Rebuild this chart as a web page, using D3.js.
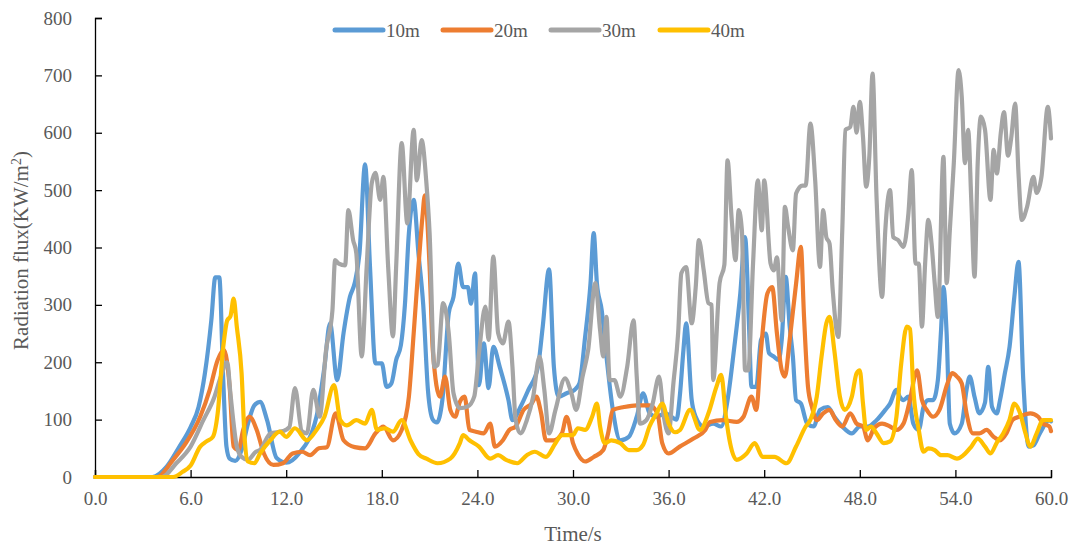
<!DOCTYPE html>
<html>
<head>
<meta charset="utf-8">
<script src="https://cdn.jsdelivr.net/npm/d3@7"></script>
<style>
  body { margin: 0; background: #fff; }
  text { font-family: "Liberation Serif", "Times New Roman", serif; fill: #595959; }
</style>
</head>
<body>
<div id="chart"></div>
<script>
// series names + colours
var seriesNames = ["10m", "20m", "30m", "40m"];
var seriesColors = ["#5B9BD5", "#ED7D31", "#A5A5A5", "#FFC000"];
var xTicks = [0, 6, 12, 18, 24, 30, 36, 42, 48, 54, 60];
var yTicks = [0, 100, 200, 300, 400, 500, 600, 700, 800];

// [time (s), flux (KW/m2)]
var flux10 = [[0,0],[3.6,0],[4.5,18],[5.3,53],[6.0,87],[6.5,122],[6.9,181],[7.3,273],[7.55,348],[7.8,348],[8.05,169],[8.25,53],[8.45,32],[8.8,28],[9.2,47],[9.6,93],[10.0,125],[10.36,131],[10.8,99],[11.4,33],[12.0,25],[12.8,41],[13.9,105],[14.4,192],[14.75,268],[15.2,169],[15.6,251],[16.0,314],[16.3,338],[16.6,390],[16.95,545],[17.26,366],[17.6,198],[18.0,198],[18.3,157],[18.6,163],[18.9,204],[19.2,230],[19.45,300],[19.7,425],[20.0,483],[20.3,390],[20.6,300],[20.9,150],[21.2,100],[21.45,95],[21.8,134],[22.2,285],[22.5,314],[22.8,372],[23.1,331],[23.4,331],[23.6,302],[23.85,355],[24.1,160],[24.4,233],[24.7,155],[25.0,227],[25.4,192],[25.95,134],[26.2,99],[26.7,122],[27.2,152],[27.8,192],[28.1,262],[28.5,362],[28.8,192],[29.1,140],[29.6,146],[30.1,152],[30.4,163],[30.76,244],[31.1,338],[31.3,425],[31.5,338],[31.8,291],[32.1,210],[32.5,117],[32.97,64],[33.5,70],[34.0,105],[34.4,146],[34.8,111],[35.25,105],[35.8,111],[36.5,100],[36.72,146],[36.93,221],[37.1,268],[37.45,134],[37.7,105],[38.2,88],[38.8,93],[39.3,88],[39.7,134],[40.1,221],[40.5,320],[40.8,418],[41.05,262],[41.2,157],[41.5,157],[41.8,239],[42.1,250],[42.3,216],[42.6,210],[42.9,204],[43.1,239],[43.35,349],[43.6,262],[43.8,210],[44.0,134],[44.3,128],[44.7,93],[45.1,88],[45.5,117],[46.0,122],[46.4,105],[46.9,88],[47.5,76],[48.0,88],[48.5,88],[49.05,99],[49.6,117],[49.9,128],[50.3,152],[50.5,140],[50.74,134],[51.05,140],[51.36,93],[51.7,82],[52.0,122],[52.3,134],[52.6,134],[52.9,169],[53.1,256],[53.25,331],[53.45,250],[53.65,93],[53.95,76],[54.4,93],[54.7,152],[54.9,175],[55.2,140],[55.5,111],[55.86,130],[56.06,192],[56.3,122],[56.6,111],[56.8,134],[57.1,180],[57.4,227],[57.7,314],[57.96,375],[58.26,169],[58.6,53],[58.9,55],[59.3,76],[59.9,99],[60.0,97]];

var flux20 = [[0,0],[3.9,0],[4.9,30],[5.7,59],[6.6,105],[7.2,152],[7.7,204],[8.1,221],[8.45,157],[8.7,53],[9.0,47],[9.3,82],[9.7,105],[10.15,82],[10.6,41],[11.2,21],[11.8,24],[12.4,41],[13.0,44],[13.5,38],[14.05,50],[14.55,52],[15.1,111],[15.6,64],[16.3,52],[16.95,50],[17.6,76],[18.1,88],[18.7,64],[19.25,82],[19.7,140],[20.0,250],[20.3,366],[20.55,453],[20.7,491],[21.0,366],[21.2,221],[21.65,140],[21.97,175],[22.3,117],[22.6,105],[22.9,131],[23.2,140],[23.5,82],[23.9,79],[24.4,76],[24.8,93],[25.1,53],[25.6,64],[26.0,82],[26.4,88],[26.9,117],[27.4,128],[27.7,140],[28.0,111],[28.3,64],[28.8,64],[29.3,76],[29.6,105],[30.0,59],[30.3,40],[30.76,27],[31.3,35],[31.9,47],[32.2,76],[32.5,117],[33.2,122],[34.0,125],[34.8,125],[35.3,111],[35.6,59],[36.0,41],[36.7,53],[37.56,67],[38.3,82],[38.6,96],[39.4,99],[40.27,96],[40.7,105],[41.2,140],[41.5,117],[41.8,221],[42.2,320],[42.5,331],[42.8,250],[43.1,186],[43.3,175],[43.6,239],[44.0,337],[44.3,401],[44.5,279],[44.75,157],[45.0,122],[45.3,99],[45.7,111],[46.1,117],[46.5,99],[46.9,88],[47.4,111],[47.8,93],[48.2,88],[48.5,64],[48.9,85],[49.4,93],[49.9,88],[50.3,82],[50.74,93],[51.1,128],[51.6,186],[51.9,134],[52.2,117],[52.6,105],[53.0,117],[53.5,163],[53.8,181],[54.1,175],[54.4,163],[54.7,111],[55.1,76],[55.5,76],[55.96,82],[56.4,70],[56.8,64],[57.2,76],[57.6,100],[58.0,105],[58.7,111],[59.2,105],[59.5,93],[59.9,88],[60.0,80]];

var flux30 = [[0,0],[4.2,0],[5.1,24],[6.0,53],[6.8,99],[7.5,140],[7.9,175],[8.3,200],[8.5,145],[8.9,53],[9.2,35],[9.6,30],[10.1,44],[10.36,47],[11.0,76],[11.8,80],[12.2,87],[12.55,155],[12.98,80],[13.3,76],[13.7,152],[14.1,105],[14.5,221],[14.9,290],[15.07,378],[15.3,372],[15.7,369],[15.9,465],[16.2,413],[16.4,390],[16.74,210],[17.05,366],[17.37,512],[17.6,530],[17.9,483],[18.1,523],[18.4,366],[18.7,245],[18.9,366],[19.25,582],[19.6,442],[20.0,605],[20.2,517],[20.5,587],[20.8,512],[21.0,425],[21.3,192],[21.5,195],[21.85,303],[22.2,251],[22.5,146],[22.9,120],[23.4,123],[23.8,140],[24.1,216],[24.5,297],[24.7,239],[25.0,384],[25.3,251],[25.6,233],[25.95,271],[26.2,192],[26.4,99],[26.7,76],[27.1,99],[27.5,140],[27.9,210],[28.2,152],[28.5,76],[28.9,117],[29.5,172],[29.9,146],[30.2,117],[30.6,175],[30.95,221],[31.4,338],[31.7,256],[31.9,210],[32.1,279],[32.3,169],[32.6,169],[32.97,140],[33.4,192],[33.8,273],[34.0,175],[34.2,93],[34.6,99],[35.0,128],[35.4,175],[35.7,105],[36.0,76],[36.3,163],[36.6,251],[36.8,355],[37.1,366],[37.45,268],[37.7,330],[37.9,413],[38.2,361],[38.5,303],[38.7,300],[38.8,169],[39.2,338],[39.5,370],[39.7,552],[39.95,453],[40.2,378],[40.4,465],[40.6,430],[40.8,186],[41.0,186],[41.3,372],[41.6,517],[41.85,430],[42.0,517],[42.4,372],[42.6,360],[42.8,383],[43.1,273],[43.3,471],[43.5,436],[43.8,395],[44.0,494],[44.4,508],[44.6,508],[44.9,616],[45.2,517],[45.5,366],[45.7,465],[45.9,418],[46.1,407],[46.3,326],[46.65,244],[46.9,430],[47.1,605],[47.4,610],[47.6,645],[47.8,600],[48.0,654],[48.2,593],[48.4,506],[48.6,560],[48.8,703],[49.05,488],[49.4,314],[49.6,430],[49.9,500],[50.1,418],[50.4,413],[50.74,401],[51.05,459],[51.26,535],[51.5,372],[51.7,372],[51.9,262],[52.1,372],[52.3,448],[52.5,408],[52.7,338],[52.9,279],[53.25,558],[53.45,338],[53.65,430],[53.9,547],[54.2,709],[54.4,662],[54.6,547],[54.8,605],[55.0,480],[55.2,349],[55.4,547],[55.6,628],[55.86,605],[56.2,483],[56.4,570],[56.6,529],[56.85,600],[57.05,636],[57.3,560],[57.5,590],[57.75,651],[57.96,529],[58.17,448],[58.5,471],[58.9,523],[59.1,495],[59.4,523],[59.8,645],[60.0,590]];

var flux40 = [[0,0],[4.9,0],[5.5,9],[6.0,20],[6.6,53],[7.0,62],[7.4,70],[7.7,111],[8.05,227],[8.3,273],[8.5,280],[8.7,311],[8.9,262],[9.2,181],[9.4,64],[9.6,27],[10.0,24],[10.36,41],[11.0,64],[11.6,79],[12.0,70],[12.55,85],[13.3,64],[13.9,82],[14.4,105],[15.0,160],[15.4,99],[15.8,90],[16.4,99],[16.95,93],[17.37,117],[17.7,82],[18.2,85],[18.7,79],[19.25,99],[19.8,64],[20.3,40],[20.8,32],[21.5,24],[22.3,32],[22.9,59],[23.1,73],[23.5,64],[24.1,53],[24.8,32],[25.3,38],[25.8,30],[26.5,24],[27.1,38],[27.6,44],[28.3,35],[28.9,59],[29.3,73],[30.0,73],[30.3,85],[30.76,82],[31.2,105],[31.5,128],[31.7,88],[32.0,59],[32.4,64],[32.97,59],[33.5,47],[34.0,47],[34.4,56],[34.8,88],[35.25,111],[35.6,128],[36.0,93],[36.4,78],[36.72,82],[37.35,117],[37.97,82],[38.5,111],[39.0,157],[39.3,178],[39.6,105],[39.86,59],[40.27,30],[40.9,41],[41.4,59],[41.9,35],[42.65,35],[43.4,24],[44.0,53],[44.6,88],[44.9,100],[45.3,140],[45.6,210],[45.9,268],[46.1,279],[46.4,221],[46.75,140],[47.05,117],[47.5,140],[47.8,181],[48.0,186],[48.2,128],[48.4,82],[48.7,88],[49.05,76],[49.5,59],[49.9,62],[50.3,105],[50.6,198],[50.95,262],[51.15,258],[51.36,152],[51.7,82],[52.0,44],[52.3,50],[52.7,47],[53.1,38],[53.5,38],[54.1,32],[54.5,38],[55.0,53],[55.4,67],[55.86,53],[56.2,41],[56.6,60],[57.0,76],[57.4,100],[57.7,128],[58.06,111],[58.4,76],[58.7,53],[59.1,76],[59.5,99],[60.0,99]];

var allSeries = [flux10, flux20, flux30, flux40];

var width = 1072, height = 545;
var margin = { top: 18, right: 21, bottom: 68, left: 95 };

var svg = d3.select("#chart").append("svg")
  .attr("width", width)
  .attr("height", height);

var x = d3.scaleLinear().domain([0, 60]).range([margin.left, width - margin.right]);
var y = d3.scaleLinear().domain([0, 800]).range([height - margin.bottom, margin.top]);

// axes (ticks point inward like the original)
var xAxis = svg.append("g")
  .attr("transform", "translate(0," + y(0) + ")")
  .call(d3.axisBottom(x).tickValues(xTicks).tickSize(-7).tickPadding(15)
    .tickFormat(function (d) { return d3.format(".1f")(d); }));
var yAxis = svg.append("g")
  .attr("transform", "translate(" + x(0) + ",0)")
  .call(d3.axisLeft(y).tickValues(yTicks).tickSize(-7).tickPadding(23));

[xAxis, yAxis].forEach(function (g) {
  g.select(".domain").attr("stroke", "#000").attr("stroke-width", 1.3);
  g.selectAll(".tick line").attr("stroke", "#000").attr("stroke-width", 1.3);
  g.selectAll(".tick text")
    .style("font-family", "'Liberation Serif', serif")
    .style("font-size", "19px")
    .attr("fill", "#595959");
});

// lines
var line = d3.line()
  .x(function (d) { return x(d[0]); })
  .y(function (d) { return y(d[1]); })
  .curve(d3.curveMonotoneX);

svg.selectAll(".series")
  .data(allSeries)
  .enter()
  .append("path")
  .attr("class", "series")
  .attr("d", line)
  .attr("fill", "none")
  .attr("stroke", function (d, i) { return seriesColors[i]; })
  .attr("stroke-width", 4.2)
  .attr("stroke-linejoin", "round")
  .attr("stroke-linecap", "round");

// axis titles
svg.append("text")
  .attr("x", (x(0) + x(60)) / 2)
  .attr("y", 541)
  .attr("text-anchor", "middle")
  .style("font-size", "21px")
  .text("Time/s");

var yTitle = svg.append("text")
  .attr("transform", "translate(28," + (y(400) + 3) + ") rotate(-90)")
  .attr("text-anchor", "middle")
  .style("font-size", "21px");
yTitle.append("tspan").text("Radiation flux(KW/m");
yTitle.append("tspan").attr("baseline-shift", "super").style("font-size", "14px").text("2");
yTitle.append("tspan").text(")");

// legend
var legend = svg.append("g");
var legendX = [335, 443, 551, 660];
seriesNames.forEach(function (name, i) {
  legend.append("line")
    .attr("x1", legendX[i]).attr("x2", legendX[i] + 48)
    .attr("y1", 30).attr("y2", 30)
    .attr("stroke", seriesColors[i])
    .attr("stroke-width", 5)
    .attr("stroke-linecap", "round");
  legend.append("text")
    .attr("x", legendX[i] + 51)
    .attr("y", 30)
    .attr("dy", "0.35em")
    .style("font-size", "19px")
    .text(name);
});
</script>
</body>
</html>
